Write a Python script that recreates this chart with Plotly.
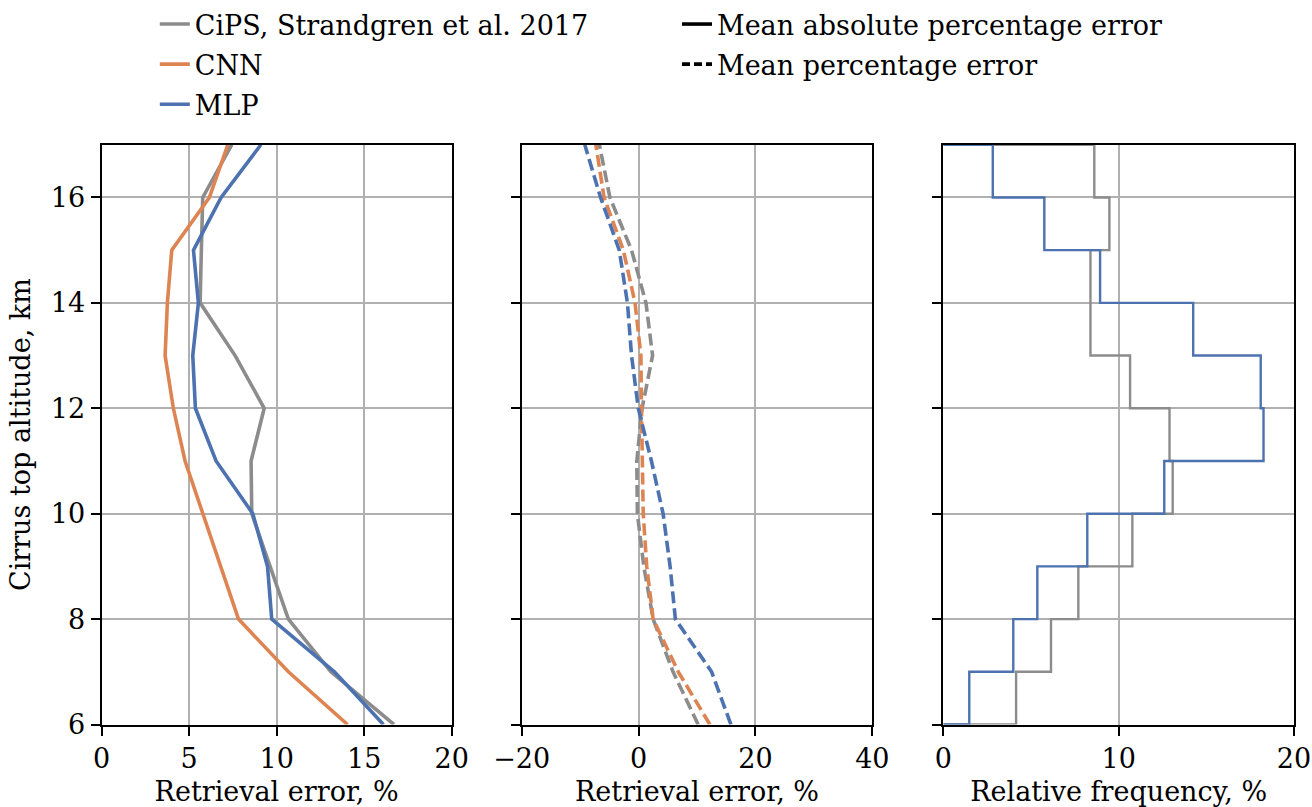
import plotly.graph_objects as go

# ---------------- data ----------------
ALT = [6, 7, 8, 9, 10, 11, 12, 13, 14, 15, 16, 17]          # km
BIN_EDGES = [6, 7, 8, 9, 10, 11, 12, 13, 14, 15, 16, 17]    # km

CIPS_MAPE = [16.7, 13.1, 10.67, 9.63, 8.58, 8.54, 9.29, 7.63, 5.63, 5.7, 5.78, 7.44]
CNN_MAPE  = [14.05, 10.67, 7.82, 6.81, 5.82, 4.77, 4.1, 3.63, 3.76, 4.01, 6.16, 7.21]
MLP_MAPE  = [16.1, 13.3, 9.72, 9.48, 8.64, 6.54, 5.36, 5.21, 5.53, 5.25, 6.83, 9.1]

CIPS_MPE = [10.2, 5.9, 2.5, 0.9, -0.2, -0.3, 0.6, 2.4, 1.27, -1.2, -4.9, -6.7]
CNN_MPE  = [12.2, 6.8, 2.5, 1.4, 0.8, 0.6, 0.5, 0.4, -0.6, -2.6, -5.9, -7.3]
MLP_MPE  = [15.8, 12.5, 6.3, 5.4, 4.2, 2.2, -0.05, -1.2, -1.9, -3.3, -6.5, -9.2]

CIPS_FREQ = [4.15, 6.14, 7.7, 10.78, 13.08, 12.9, 10.65, 8.39, 8.39, 9.47, 8.61]
MLP_FREQ  = [1.48, 3.99, 5.36, 8.21, 12.6, 18.26, 18.1, 14.25, 8.94, 5.76, 2.82]

LABELS = ["CiPS, Strandgren et al. 2017", "CNN", "MLP"]
COLORS = ["#8c8c8c", "#dd8452", "#4c72b0"]

X1_TICKS = [0, 5, 10, 15, 20]
X2_TICKS = [-20, 0, 20, 40]
X2_TICKTEXT = ["\u221220", "0", "20", "40"]
X3_TICKS = [0, 10, 20]
Y_TICKS = [6, 8, 10, 12, 14, 16]

FONT = "DejaVu Serif"
FS = 27
LW = 3.6


def step_path(edges, vals):
    xs, ys = [0], [edges[0]]
    for i, v in enumerate(vals):
        xs += [v, v]
        ys += [edges[i], edges[i + 1]]
    xs.append(0)
    ys.append(edges[-1])
    return xs, ys


fig = go.Figure()

# left panel: MAPE
for vals, name, col in zip([CIPS_MAPE, CNN_MAPE, MLP_MAPE], LABELS, COLORS):
    fig.add_trace(go.Scatter(x=vals, y=ALT, mode="lines", name=name,
                             line=dict(color=col, width=LW), xaxis="x", yaxis="y",
                             legend="legend", legendgroup=name, showlegend=True))

# middle panel: MPE
for vals, name, col in zip([CIPS_MPE, CNN_MPE, MLP_MPE], LABELS, COLORS):
    fig.add_trace(go.Scatter(x=vals, y=ALT, mode="lines", name=name,
                             line=dict(color=col, width=LW, dash="12px,5px"),
                             xaxis="x2", yaxis="y2", showlegend=False))

# right panel: step histograms
for vals, col in zip([CIPS_FREQ, MLP_FREQ], [COLORS[0], COLORS[2]]):
    hx, hy = step_path(BIN_EDGES, vals)
    fig.add_trace(go.Scatter(x=hx, y=hy, mode="lines", line=dict(color=col, width=2.4),
                             xaxis="x3", yaxis="y3", showlegend=False))

# style legend entries
fig.add_trace(go.Scatter(x=[None], y=[None], mode="lines", name="Mean absolute percentage error",
                         line=dict(color="black", width=LW), xaxis="x2", yaxis="y2",
                         legend="legend2", legendgroup="mape"))
fig.add_trace(go.Scatter(x=[None], y=[None], mode="lines", name="Mean percentage error",
                         line=dict(color="black", width=LW, dash="8px,4px"), xaxis="x2", yaxis="y2",
                         legend="legend2", legendgroup="mpe"))

Y0, Y1 = 0.1026, 0.8237
common_x = dict(showgrid=True, gridcolor="#b0b0b0", gridwidth=1.6, zeroline=False,
                showline=True, linecolor="black", linewidth=2, mirror=True,
                ticks="outside", ticklen=9, tickwidth=2, tickcolor="black",
                tickfont=dict(family=FONT, size=FS, color="black"),
                automargin=False)
common_y = dict(common_x)

title_font = dict(family=FONT, size=FS, color="black")

fig.update_layout(
    width=1312, height=807,
    margin=dict(l=0, r=0, t=0, b=0),
    paper_bgcolor="white", plot_bgcolor="white",
    font=dict(family=FONT, size=FS, color="black"),
    xaxis=dict(common_x, domain=[0.0774, 0.3443], range=[0, 20], tickvals=X1_TICKS,
               anchor="y", title=dict(text="Retrieval error, %", font=title_font, standoff=10)),
    yaxis=dict(common_y, domain=[Y0, Y1], range=[6, 17], tickvals=Y_TICKS, anchor="x",
               title=dict(text="Cirrus top altitude, km", font=title_font, standoff=12)),
    xaxis2=dict(common_x, domain=[0.3976, 0.6649], range=[-20, 40], tickvals=X2_TICKS,
                ticktext=X2_TICKTEXT, anchor="y2",
                title=dict(text="Retrieval error, %", font=title_font, standoff=10)),
    yaxis2=dict(common_y, domain=[Y0, Y1], range=[6, 17], tickvals=Y_TICKS, anchor="x2",
                showticklabels=False),
    xaxis3=dict(common_x, domain=[0.719, 0.9863], range=[0, 20], tickvals=X3_TICKS,
                anchor="y3",
                title=dict(text="Relative frequency, %", font=title_font, standoff=10)),
    yaxis3=dict(common_y, domain=[Y0, Y1], range=[6, 17], tickvals=Y_TICKS, anchor="x3",
                showticklabels=False),
    legend=dict(x=0.118, y=1.004, xanchor="left", yanchor="top", bgcolor="rgba(0,0,0,0)",
                font=dict(family=FONT, size=FS, color="black"), tracegroupgap=2,
                traceorder="grouped"),
    legend2=dict(x=0.516, y=1.004, xanchor="left", yanchor="top", bgcolor="rgba(0,0,0,0)",
                 font=dict(family=FONT, size=FS, color="black"), tracegroupgap=2,
                 traceorder="grouped"),
)

fig.write_html("out.html")
